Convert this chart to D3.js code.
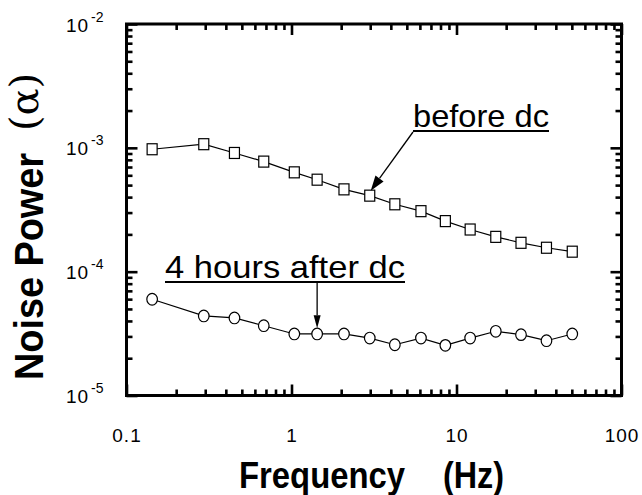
<!DOCTYPE html>
<html>
<head>
<meta charset="utf-8">
<script src="https://cdn.jsdelivr.net/npm/d3@7"></script>
<style>
  body { margin: 0; background: #fff; }
  text { font-family: "Liberation Sans", Arial, Helvetica, sans-serif; fill: #000; }
</style>
</head>
<body>
<script>
// values
var freq = [0.143, 0.294, 0.451, 0.679, 1.04, 1.43, 2.08, 2.98, 4.23, 6.09, 8.56, 12.1, 17.3, 24.6, 35.1, 50.3]
var beforeDc = [9.74e-4, 1.07e-3, 9.09e-4, 7.74e-4, 6.34e-4, 5.53e-4, 4.62e-4, 4.11e-4, 3.50e-4, 3.08e-4, 2.56e-4, 2.19e-4, 1.91e-4, 1.71e-4, 1.56e-4, 1.45e-4]
var afterDc = [5.99e-5, 4.39e-5, 4.23e-5, 3.66e-5, 3.14e-5, 3.14e-5, 3.14e-5, 2.91e-5, 2.57e-5, 2.91e-5, 2.54e-5, 2.91e-5, 3.30e-5, 3.10e-5, 2.77e-5, 3.14e-5]
var xTicks = [0.1, 1, 10, 100]
var xTickLabels = ["0.1", "1", "10", "100"]
var yTicks = [1e-2, 1e-3, 1e-4, 1e-5]
var yTickExp = ["-2", "-3", "-4", "-5"]

var W = 642, H = 495
var margin = {top: 24, left: 126.5}
var w = 495, h = 371.5

var svg = d3.select("body").append("svg")
    .attr("width", W).attr("height", H)
var g = svg.append("g")
    .attr("transform", "translate(" + margin.left + "," + margin.top + ")")

var x = d3.scaleLog().domain([0.1, 100]).range([0, w])
var y = d3.scaleLog().domain([1e-5, 1e-2]).range([h, 0])

function isDecade(d) {
  var l = Math.log10(d)
  return Math.abs(l - Math.round(l)) < 1e-9
}
var xMinor = x.ticks().filter(function (d) { return !isDecade(d) })
var yMinor = y.ticks().filter(function (d) { return !isDecade(d) })

// inward ticks on all four sides
function tickSet(axisFn, scale, vals, len, tr) {
  var a = g.append("g")
      .attr("transform", tr)
      .call(axisFn(scale).tickValues(vals).tickSize(-len).tickFormat(""))
  a.select(".domain").remove()
  a.selectAll("line").attr("stroke", "#000").attr("stroke-width", 2.6)
}
tickSet(d3.axisBottom, x, xTicks, 11, "translate(0," + h + ")")
tickSet(d3.axisBottom, x, xMinor, 6, "translate(0," + h + ")")
tickSet(d3.axisTop, x, xTicks, 11, "translate(0,0)")
tickSet(d3.axisTop, x, xMinor, 6, "translate(0,0)")
tickSet(d3.axisLeft, y, yTicks, 11, "translate(0,0)")
tickSet(d3.axisLeft, y, yMinor, 6, "translate(0,0)")
tickSet(d3.axisRight, y, yTicks, 11, "translate(" + w + ",0)")
tickSet(d3.axisRight, y, yMinor, 6, "translate(" + w + ",0)")

// frame
g.append("rect")
    .attr("width", w).attr("height", h)
    .attr("fill", "none").attr("stroke", "#000").attr("stroke-width", 3)

// x labels
var xl = g.append("g")
    .attr("transform", "translate(0," + h + ")")
    .call(d3.axisBottom(x).tickValues(xTicks).tickSize(0)
      .tickFormat(function (d, i) { return xTickLabels[i] }))
xl.select(".domain").remove()
xl.selectAll("text")
    .attr("y", 46.5).attr("dy", null)
    .style("font-size", "19px")
    .style("letter-spacing", "1px")
    .style("font-family", "Liberation Sans, Arial, sans-serif")

// y labels 10^n
var yl = g.append("g")
    .call(d3.axisLeft(y).tickValues(yTicks).tickSize(0).tickPadding(23).tickFormat(""))
yl.select(".domain").remove()
yl.selectAll("text")
    .attr("dy", null).attr("y", 7)
    .style("font-family", "Liberation Sans, Arial, sans-serif")
    .each(function (d, i) {
      var t = d3.select(this)
      t.append("tspan").style("font-size", "19px").style("letter-spacing", "1px").text("10")
      t.append("tspan").attr("dx", 2).attr("dy", -10).style("font-size", "14px").text(yTickExp[i])
    })

// series
var line = d3.line()
    .x(function (d) { return x(d[0]) })
    .y(function (d) { return y(d[1]) })
var sq = freq.map(function (f, i) { return [f, beforeDc[i]] })
var ci = freq.map(function (f, i) { return [f, afterDc[i]] })

g.append("path").datum(sq).attr("d", line)
    .attr("fill", "none").attr("stroke", "#000").attr("stroke-width", 1.2)
g.append("path").datum(ci).attr("d", line)
    .attr("fill", "none").attr("stroke", "#000").attr("stroke-width", 1.2)

g.selectAll(".sq").data(sq).enter().append("rect")
    .attr("class", "sq")
    .attr("x", function (d) { return x(d[0]) - 5 })
    .attr("y", function (d) { return y(d[1]) - 5.5 })
    .attr("width", 10).attr("height", 11)
    .attr("fill", "#fff").attr("stroke", "#000").attr("stroke-width", 1.2)

g.selectAll(".ci").data(ci).enter().append("ellipse")
    .attr("class", "ci")
    .attr("cx", function (d) { return x(d[0]) })
    .attr("cy", function (d) { return y(d[1]) })
    .attr("rx", 5.3).attr("ry", 5.8)
    .attr("fill", "#fff").attr("stroke", "#000").attr("stroke-width", 1.2)

// annotations
function arrow(x1, y1, x2, y2, L, hw) {
  var a = Math.atan2(y2 - y1, x2 - x1)
  var bx = x2 - L * Math.cos(a), by = y2 - L * Math.sin(a)
  svg.append("line")
      .attr("x1", x1).attr("y1", y1).attr("x2", bx).attr("y2", by)
      .attr("stroke", "#000").attr("stroke-width", 1.3)
  svg.append("path")
      .attr("d", "M" + x2 + "," + y2 +
        "L" + (bx - hw * Math.sin(a)) + "," + (by + hw * Math.cos(a)) +
        "L" + (bx + hw * Math.sin(a)) + "," + (by - hw * Math.cos(a)) + "Z")
      .attr("fill", "#000")
}

svg.append("text")
    .attr("x", 413).attr("y", 127)
    .attr("textLength", 136).attr("lengthAdjust", "spacingAndGlyphs")
    .style("font-size", "32px")
    .text("before dc")
svg.append("line")
    .attr("x1", 413).attr("x2", 549).attr("y1", 131).attr("y2", 131)
    .attr("stroke", "#000").attr("stroke-width", 2.2)
arrow(413, 132, margin.left + x(freq[7]) + 1, margin.top + y(beforeDc[7]) - 5, 15, 5)

svg.append("text")
    .attr("x", 165).attr("y", 278)
    .attr("textLength", 240).attr("lengthAdjust", "spacingAndGlyphs")
    .style("font-size", "32px")
    .text("4 hours after dc")
svg.append("line")
    .attr("x1", 165).attr("x2", 405).attr("y1", 282).attr("y2", 282)
    .attr("stroke", "#000").attr("stroke-width", 2.2)
arrow(margin.left + x(freq[5]), 283, margin.left + x(freq[5]), margin.top + y(afterDc[5]) - 5.8, 13, 3.5)

// axis titles
svg.append("text")
    .attr("x", 239).attr("y", 488)
    .attr("textLength", 166).attr("lengthAdjust", "spacingAndGlyphs")
    .style("font-size", "36px").style("font-weight", "bold")
    .text("Frequency")
svg.append("text")
    .attr("x", 443).attr("y", 488)
    .attr("textLength", 61).attr("lengthAdjust", "spacingAndGlyphs")
    .style("font-size", "36px").style("font-weight", "bold")
    .text("(Hz)")

svg.append("text")
    .attr("transform", "translate(43,380) rotate(-90)")
    .attr("textLength", 227).attr("lengthAdjust", "spacingAndGlyphs")
    .style("font-size", "41px").style("font-weight", "bold")
    .text("Noise Power")
svg.append("text")
    .attr("transform", "translate(38,131) rotate(-90)")
    .style("font-size", "40px")
    .style("font-family", "DejaVu Serif, Liberation Serif, serif")
    .text("(α)")
</script>
</body>
</html>
